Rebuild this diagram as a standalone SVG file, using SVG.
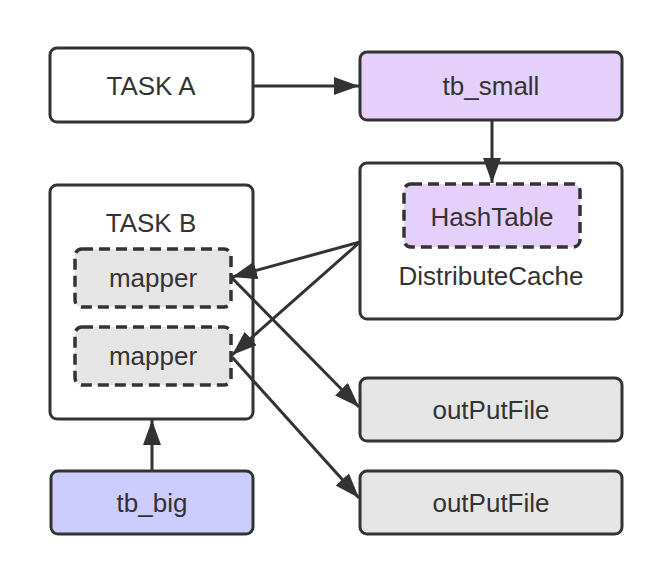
<svg xmlns="http://www.w3.org/2000/svg" width="658" height="576" viewBox="0 0 658 576">
<style>
.box{stroke:#333;stroke-width:3;}
.dash{stroke-dasharray:11 6;stroke-width:3.5;}
.w{fill:#fff;}
.p{fill:#E5D0FB;}
.b{fill:#CCCCFF;}
.g{fill:#E5E5E5;}
text{font-family:"Liberation Sans",Arial,sans-serif;font-size:26px;fill:#333;text-anchor:middle;}
.conn line{stroke:#333;stroke-width:3;marker-end:url(#ah);}
</style>
<defs>
<marker id="ah" markerUnits="userSpaceOnUse" markerWidth="26" markerHeight="18" refX="25" refY="9" orient="auto">
<path d="M0,0 L25,9 L0,18 z" fill="#333"/>
</marker>
</defs>
<rect width="658" height="576" fill="#fff"/>
<g id="taskA"><rect class="box w" x="50" y="48" width="203" height="74" rx="7"/><text x="151" y="95">TASK A</text></g>
<g id="tbSmall"><rect class="box p" x="360" y="52" width="262" height="68" rx="7"/><text x="491" y="95">tb_small</text></g>
<g id="distCache"><rect class="box w" x="360" y="163" width="262" height="156" rx="7"/><text x="491" y="285">DistributeCache</text></g>
<g id="hashTable"><rect class="box p dash" x="404" y="184" width="176" height="63" rx="7"/><text x="492" y="226">HashTable</text></g>
<g id="taskB"><rect class="box w" x="50" y="185" width="203" height="234" rx="7"/><text x="151" y="232">TASK B</text></g>
<g id="mapper1"><rect class="box g dash" x="75" y="249" width="156" height="58" rx="7"/><text x="153" y="287">mapper</text></g>
<g id="mapper2"><rect class="box g dash" x="75" y="327" width="156" height="58" rx="7"/><text x="153" y="365">mapper</text></g>
<g id="tbBig"><rect class="box b" x="51" y="471" width="202" height="63" rx="7"/><text x="152" y="512">tb_big</text></g>
<g id="out1"><rect class="box g" x="360" y="378" width="262" height="63" rx="7"/><text x="491" y="419">outPutFile</text></g>
<g id="out2"><rect class="box g" x="360" y="471" width="262" height="63" rx="7"/><text x="491" y="512">outPutFile</text></g>
<g id="connectors" class="conn">
<line x1="253" y1="86" x2="359" y2="86"/>
<line x1="492" y1="120" x2="492" y2="183"/>
<line x1="152" y1="471" x2="152" y2="420"/>
<line x1="360" y1="242" x2="232" y2="277"/>
<line x1="360" y1="242" x2="232" y2="355"/>
<line x1="232" y1="278" x2="359" y2="407"/>
<line x1="232" y1="357" x2="359" y2="498"/>
</g>
</svg>
